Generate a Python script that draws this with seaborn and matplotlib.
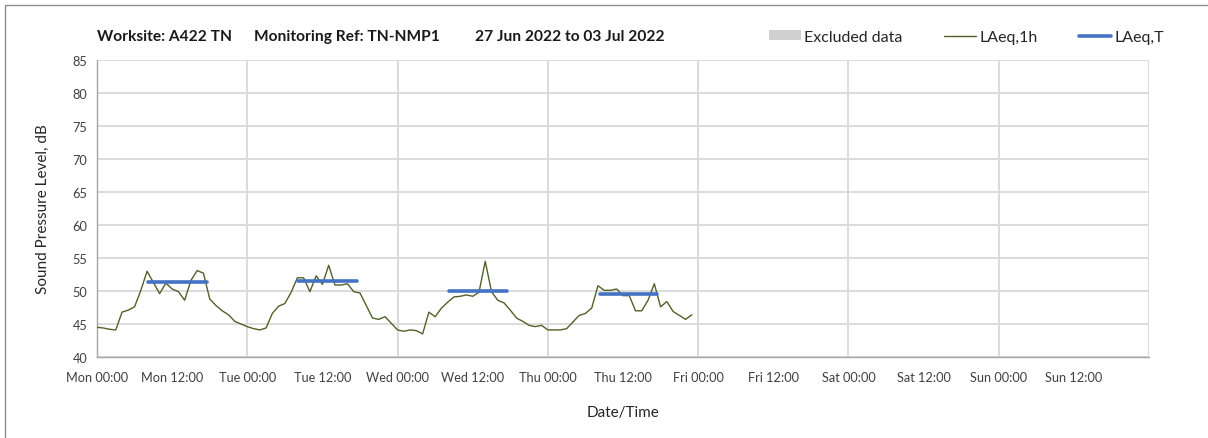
import matplotlib
matplotlib.use("Agg")
import matplotlib.pyplot as plt
from matplotlib.patches import Patch, Rectangle
from matplotlib.lines import Line2D
import seaborn as sns
import pandas as pd
import numpy as np

# ---- data ----
laeq_1h = [
    44.5, 44.4, 44.2, 44.1, 46.8, 47.1, 47.6, 50.1, 53.0, 51.3, 49.6, 51.2,
    50.3, 49.9, 48.6, 51.6, 53.1, 52.7, 48.8, 47.8, 47.0, 46.4, 45.4, 45.0,
    44.6, 44.3, 44.1, 44.4, 46.6, 47.7, 48.1, 49.8, 52.0, 52.0, 49.9, 52.3,
    51.0, 53.9, 50.9, 50.9, 51.1, 49.9, 49.7, 47.8, 45.9, 45.7, 46.1, 45.1,
    44.1, 43.9, 44.1, 44.0, 43.5, 46.8, 46.1, 47.4, 48.3, 49.1, 49.2, 49.4,
    49.2, 49.8, 54.5, 49.9, 48.6, 48.2, 47.1, 45.9, 45.4, 44.8, 44.6, 44.8,
    44.1, 44.1, 44.1, 44.3, 45.3, 46.3, 46.6, 47.4, 50.8, 50.1, 50.1, 50.3,
    49.3, 49.3, 47.0, 47.0, 48.6, 51.1, 47.6, 48.4, 46.9, 46.3, 45.7, 46.4,
]
hours = list(range(len(laeq_1h)))

laeq_t_values = [51.35, 51.5, 50.05, 49.6]
laeq_t_start = [8.2, 32.1, 56.2, 80.4]
laeq_t_end = [17.5, 41.6, 65.5, 89.5]

tick_labels = ["Mon 00:00", "Mon 12:00", "Tue 00:00", "Tue 12:00", "Wed 00:00",
               "Wed 12:00", "Thu 00:00", "Thu 12:00", "Fri 00:00", "Fri 12:00",
               "Sat 00:00", "Sat 12:00", "Sun 00:00", "Sun 12:00", ""]

title_parts = ["Worksite: A422 TN", "Monitoring Ref: TN-NMP1",
               "27 Jun 2022 to 03 Jul 2022"]

# ---- style ----
sns.set_theme(style="white")
plt.rcParams["font.family"] = ["Lato", "DejaVu Sans"]

W, H = 1208, 439
fig = plt.figure(figsize=(W / 100, H / 100), dpi=100)
ax = fig.add_axes([97 / W, 1 - 358 / H, (1149 - 97) / W, (358 - 61) / H])

df = pd.DataFrame({"hour": hours, "level": laeq_1h})
sns.lineplot(data=df, x="hour", y="level", ax=ax, color="#4F6228",
             linewidth=1.0, zorder=3)

seg_x, seg_y, seg_id = [], [], []
for i, (s, e, v) in enumerate(zip(laeq_t_start, laeq_t_end, laeq_t_values)):
    seg_x += [s, e]
    seg_y += [v, v]
    seg_id += [i, i]
seg_df = pd.DataFrame({"hour": seg_x, "level": seg_y, "seg": seg_id})
sns.lineplot(data=seg_df, x="hour", y="level", units="seg", estimator=None,
             ax=ax, color="#4472C4", linewidth=2.6, zorder=4, legend=False)

ax.set_xlim(0, 168)
ax.set_ylim(40, 85)
ax.set_yticks(np.arange(40, 86, 5))
ax.set_xticks(np.arange(0, 169, 12))
ax.set_xticklabels(tick_labels)
ax.xaxis.remove_overlapping_locs = False
ax.set_xticks(np.arange(24, 169, 24), minor=True)

ax.grid(False)
ax.yaxis.grid(True, color="#D9D9D9", linewidth=1.3)
ax.xaxis.grid(True, which="minor", color="#D9D9D9", linewidth=1.3)
ax.set_axisbelow(True)

for side in ["top", "right"]:
    ax.spines[side].set_visible(False)
for side in ["left", "bottom"]:
    ax.spines[side].set_color("#A6A6A6")
    ax.spines[side].set_linewidth(1.0)

ax.tick_params(axis="both", which="major", direction="out", length=4,
               width=0.8, color="#A6A6A6", labelsize=9.2,
               labelcolor="#404040")
ax.tick_params(axis="y", which="major", pad=3)
ax.tick_params(axis="x", which="major", pad=6)
ax.tick_params(axis="x", which="minor", length=0)

ax.set_xlabel("Date/Time", fontsize=11, color="#262626", labelpad=16)
ax.set_ylabel("Sound Pressure Level, dB", fontsize=11, color="#262626",
              labelpad=16)

# title parts
xs = [97, 254, 475]
for t, x in zip(title_parts, xs):
    fig.text(x / W, 1 - 37 / H, t, fontsize=11.2, fontweight="bold",
             color="#1a1a1a", va="center", ha="left")

handles = [Patch(facecolor="#D0D0D0", edgecolor="none"),
           Line2D([], [], color="#4F6228", linewidth=1.0),
           Line2D([], [], color="#4472C4", linewidth=2.6)]
leg = fig.legend(handles, ["Excluded data", "LAeq,1h", "LAeq,T"], ncol=3,
                 loc="center right", bbox_to_anchor=(1178 / W, 1 - 38 / H),
                 frameon=False, fontsize=11.5, handlelength=2.0,
                 handleheight=0.6, handletextpad=0.2, columnspacing=2.6)
for txt in leg.get_texts():
    txt.set_color("#262626")

fig.patches.append(Rectangle((5 / W, -0.1), 1.2, 1.1 - 6 / H,
                             transform=fig.transFigure, fill=False,
                             edgecolor="#8C8C8C", linewidth=1.0))

fig.savefig("out.png", dpi=100)
